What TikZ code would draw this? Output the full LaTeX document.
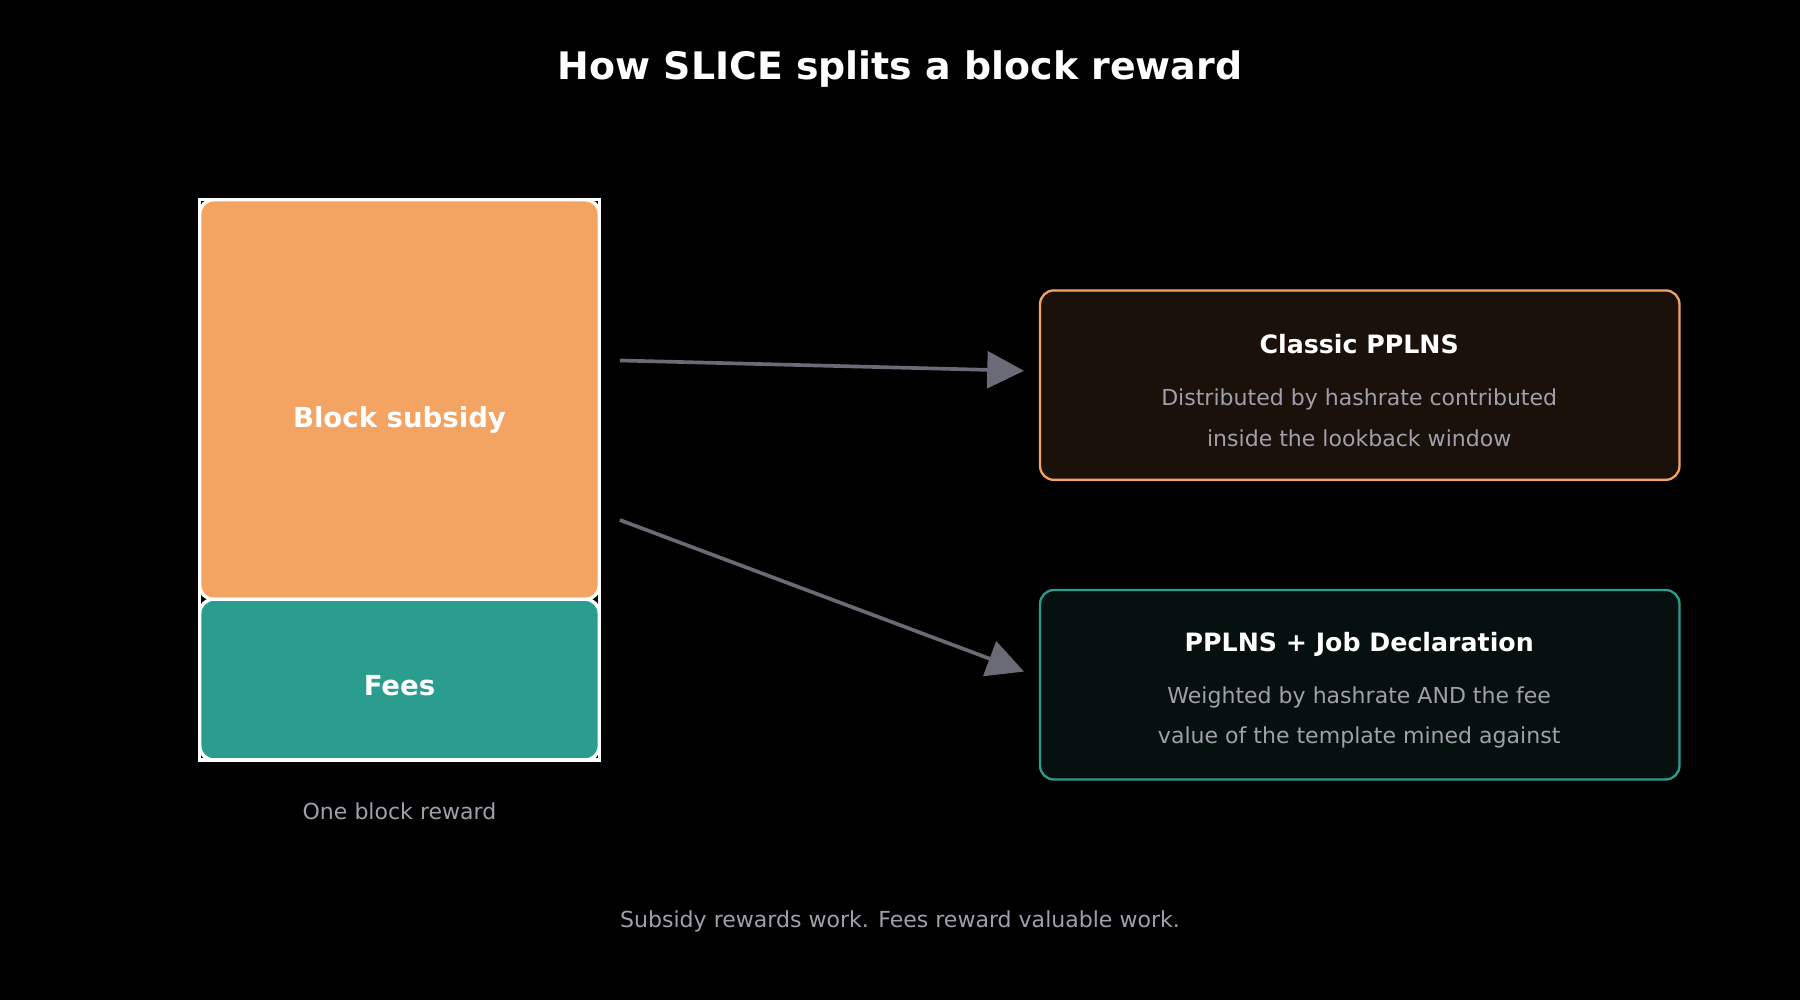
\documentclass[tikz,border=0pt]{standalone}
\usepackage{fontspec}
\setmainfont{DejaVu Sans}
\usetikzlibrary{arrows.meta}
\definecolor{org}{HTML}{F4A462}
\definecolor{tea}{HTML}{2A9D8F}
\definecolor{gry}{HTML}{A0A0AA}
\definecolor{arr}{HTML}{6B6B78}
\definecolor{bga}{HTML}{1B110B}
\definecolor{bgb}{HTML}{06100E}
\begin{document}
\begin{tikzpicture}[x=0.5pt,y=-0.5pt,
  bold/.style={text=white,font=\bfseries\fontsize{11}{13}\selectfont},
  sub/.style={text=gry,font=\fontsize{9.6}{17.5}\selectfont,align=center},
  card/.style={rounded corners=6pt,line width=1pt},
  conn/.style={draw=arr,line width=1.6pt,-{Triangle[length=16pt,width=16pt]},shorten >=0pt}]
\fill[black] (0,0) rectangle (1568,871);
\useasboundingbox (0,0) rectangle (1568,871);
\node[text=white,font=\bfseries\fontsize{16.5}{20}\selectfont] (title) at (784,60) {How SLICE splits a block reward};
\draw[white,line width=1.5pt] (174,174) rectangle (522,662);
\draw[white,line width=1.5pt,fill=org,rounded corners=6pt] (174,174) rectangle (522,522);
\draw[white,line width=1.5pt,fill=tea,rounded corners=6pt] (174,522) rectangle (522,662);
\node[bold,font=\bfseries\fontsize{12}{14}\selectfont] (subs) at (348,366) {Block subsidy};
\node[bold,font=\bfseries\fontsize{12}{14}\selectfont] (fees) at (348,597) {Fees};
\node[text=gry,font=\fontsize{9.6}{12}\selectfont] (obr) at (348,707) {One block reward};
\draw[card,draw=org,fill=bga] (906,253) rectangle (1463,418);
\node[bold] (t1) at (1184,300) {Classic PPLNS};
\node[sub] (d1) at (1184,364) {Distributed by hashrate contributed\\inside the lookback window};
\draw[card,draw=tea,fill=bgb] (906,514) rectangle (1463,679);
\node[bold] (t2) at (1184,561) {PPLNS + Job Declaration};
\node[sub] (d2) at (1184,625) {Weighted by hashrate AND the fee\\value of the template mined against};
\coordinate (a1s) at (540,314); \coordinate (a1e) at (892,323);
\coordinate (a2s) at (540,453); \coordinate (a2e) at (892,585);
\draw[conn] (a1s) -- (a1e);
\draw[conn] (a2s) -- (a2e);
\node[text=gry,font=\fontsize{9.6}{12}\selectfont] (foot) at (784,803) {Subsidy rewards work. Fees reward valuable work.};
\end{tikzpicture}
\end{document}
